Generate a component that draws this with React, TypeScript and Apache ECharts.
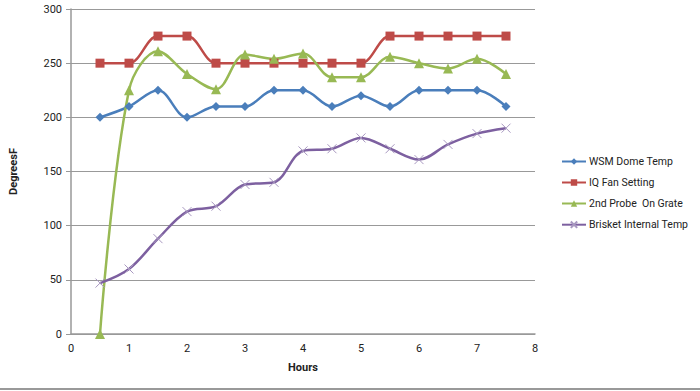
import React, { useEffect, useRef } from "react";
import * as echarts from "echarts";

const hours = [0.5, 1, 1.5, 2, 2.5, 3, 3.5, 4, 4.5, 5, 5.5, 6, 6.5, 7, 7.5];
const wsmDome = [200, 210, 225, 200, 210, 210, 225, 225, 210, 220, 210, 225, 225, 225, 210];
const iqFan = [250, 250, 275, 275, 250, 250, 250, 250, 250, 250, 275, 275, 275, 275, 275];
const probeGrate = [0, 225, 261, 240, 226, 258, 254, 259, 237, 237, 256, 250, 245, 254, 240];
const brisket = [47, 60, 88, 113, 118, 138, 140, 169, 171, 181, 171, 161, 175, 185, 190];

const seriesNames = ["WSM Dome Temp", "IQ Fan Setting", "2nd Probe  On Grate", "Brisket Internal Temp"];
const colors = ["#4A7EBB", "#BE4B48", "#98B954", "#7D60A0"];

const pairs = (vals: number[]) => hours.map((h, i) => [h, vals[i]]);

export default function App() {
  const ref = useRef<HTMLDivElement>(null);
  useEffect(() => {
    if (!ref.current) return;
    const chart = echarts.init(ref.current, undefined, { renderer: "svg" });
    const font = "Roboto, 'Noto Sans', sans-serif";
    const base = {
      type: "line",
      smooth: 0.35,
      symbolSize: 9,
    };
    chart.setOption({
      animation: false,
      backgroundColor: "#ffffff",
      textStyle: { fontFamily: font },
      grid: { left: 69, right: 165, top: 9, bottom: 57, containLabel: false },
      xAxis: {
        type: "value",
        min: 0,
        max: 8,
        interval: 1,
        name: "Hours",
        nameLocation: "middle",
        nameGap: 28,
        nameTextStyle: { fontWeight: "bold", fontSize: 11, color: "#222", fontFamily: font },
        axisLine: { show: true, lineStyle: { color: "#999", width: 1.5 } },
        axisTick: { show: false },
        splitLine: { show: false },
        axisLabel: { color: "#222", fontSize: 11, margin: 9, fontFamily: font },
      },
      yAxis: {
        type: "value",
        min: 0,
        max: 300,
        interval: 50,
        name: "DegreesF",
        nameLocation: "middle",
        nameGap: 52,
        nameRotate: 90,
        nameTextStyle: { fontWeight: "bold", fontSize: 11, color: "#222", fontFamily: font },
        axisLine: { show: true, lineStyle: { color: "#999", width: 1.5 } },
        axisTick: { show: true, inside: false, length: 5, lineStyle: { color: "#999" } },
        splitLine: { show: true, lineStyle: { color: "#999", width: 1 } },
        axisLabel: { color: "#222", fontSize: 11, margin: 9, fontFamily: font },
      },
      legend: {
        orient: "vertical",
        left: 556,
        top: 151,
        itemGap: 10,
        itemWidth: 24,
        itemHeight: 8,
        textStyle: { fontSize: 10.5, color: "#222", fontFamily: font, padding: [0, 0, 0, -2] },
        data: seriesNames,
      },
      graphic: [
        {
          type: "rect",
          shape: { x: 0, y: 388, width: 700, height: 2 },
          style: { fill: "#999" },
          z: 100,
        },
      ],
      series: [
        {
          ...base,
          name: seriesNames[0],
          data: pairs(wsmDome),
          symbol: "diamond",
          symbolSize: 9,
          itemStyle: { color: colors[0] },
          lineStyle: { color: colors[0], width: 2.5 },
        },
        {
          ...base,
          name: seriesNames[1],
          data: pairs(iqFan),
          symbol: "rect",
          symbolSize: 9,
          itemStyle: { color: colors[1] },
          lineStyle: { color: colors[1], width: 2.5 },
        },
        {
          ...base,
          name: seriesNames[2],
          data: pairs(probeGrate),
          symbol: "triangle",
          symbolSize: 10,
          itemStyle: { color: colors[2] },
          lineStyle: { color: colors[2], width: 2.5 },
        },
        {
          ...base,
          name: seriesNames[3],
          data: pairs(brisket),
          symbol: "path://M0,0L10,10M10,0L0,10",
          symbolSize: 9,
          itemStyle: { color: "none", borderColor: "#A898C0", borderWidth: 1 },
          lineStyle: { color: colors[3], width: 2.5 },
        },
      ],
    });
    return () => chart.dispose();
  }, []);
  return (
    <div
      ref={ref}
      style={{ position: "absolute", left: 0, top: 0, width: 700, height: 391 }}
    />
  );
}
